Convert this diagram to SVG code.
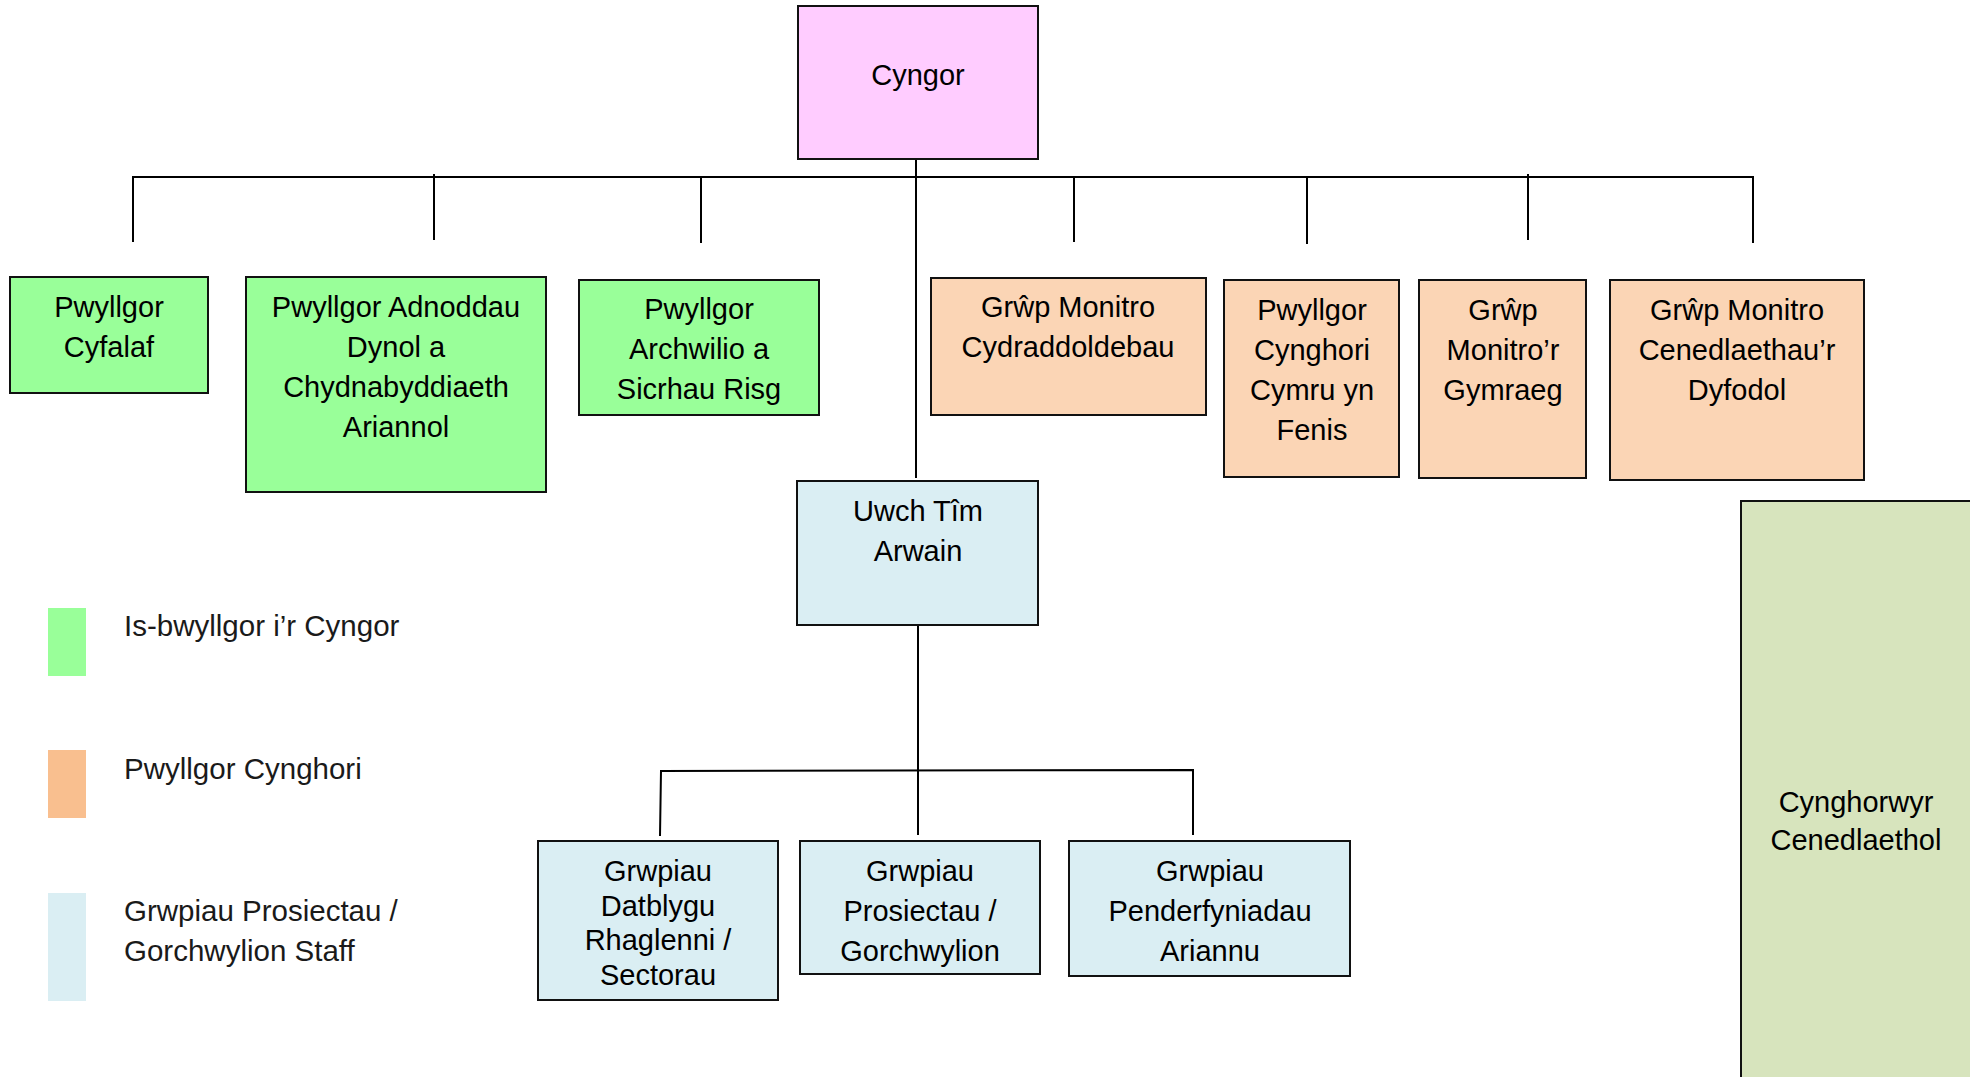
<svg xmlns="http://www.w3.org/2000/svg" width="1970" height="1077" viewBox="0 0 1970 1077">
<style>
.box{stroke:#111;stroke-width:2}
.g{fill:#99FF99}.p{fill:#FFCCFF}.o{fill:#FBD5B5}.b{fill:#DAEEF3}.n{fill:#D7E4BD}
text{font-family:"Liberation Sans","DejaVu Sans",sans-serif;font-size:29px;fill:#000;text-anchor:middle}
.leg{text-anchor:start;fill:#1a1a1a;font-size:29.5px}
.c{stroke:#000;stroke-width:2;fill:none}
</style>
<rect width="1970" height="1077" fill="#fff"/>
<g id="connectors">
<line class="c" x1="133" y1="177" x2="1753" y2="177" stroke-width="3"/>
<line class="c" x1="133" y1="176" x2="133" y2="242"/>
<line class="c" x1="434" y1="174" x2="434" y2="240"/>
<line class="c" x1="701" y1="176" x2="701" y2="243"/>
<line class="c" x1="1074" y1="176" x2="1074" y2="242"/>
<line class="c" x1="1307" y1="176" x2="1307" y2="244"/>
<line class="c" x1="1528" y1="174" x2="1528" y2="240"/>
<line class="c" x1="1753" y1="176" x2="1753" y2="243"/>
<line class="c" x1="916" y1="159" x2="916" y2="478"/>
<line class="c" x1="918" y1="625" x2="918" y2="835"/>
<polyline class="c" points="660,836 661,771 1193,770 1193,835"/>
</g>
<g id="cyngor"><rect class="box p" x="798" y="6" width="240" height="153"/><text x="918" y="85">Cyngor</text></g>
<g id="pwyllgor-cyfalaf"><rect class="box g" x="10" y="277" width="198" height="116"/><text x="109" y="317">Pwyllgor</text><text x="109" y="357">Cyfalaf</text></g>
<g id="pwyllgor-adnoddau"><rect class="box g" x="246" y="277" width="300" height="215"/><text x="396" y="317">Pwyllgor Adnoddau</text><text x="396" y="357">Dynol a</text><text x="396" y="397">Chydnabyddiaeth</text><text x="396" y="437">Ariannol</text></g>
<g id="pwyllgor-archwilio"><rect class="box g" x="579" y="280" width="240" height="135"/><text x="699" y="319">Pwyllgor</text><text x="699" y="359">Archwilio a</text><text x="699" y="399">Sicrhau Risg</text></g>
<g id="grwp-cydraddoldebau"><rect class="box o" x="931" y="278" width="275" height="137"/><text x="1068" y="317">Grŵp Monitro</text><text x="1068" y="357">Cydraddoldebau</text></g>
<g id="pwyllgor-fenis"><rect class="box o" x="1224" y="280" width="175" height="197"/><text x="1312" y="320">Pwyllgor</text><text x="1312" y="360">Cynghori</text><text x="1312" y="400">Cymru yn</text><text x="1312" y="440">Fenis</text></g>
<g id="grwp-gymraeg"><rect class="box o" x="1419" y="280" width="167" height="198"/><text x="1503" y="320">Grŵp</text><text x="1503" y="360">Monitro’r</text><text x="1503" y="400">Gymraeg</text></g>
<g id="grwp-dyfodol"><rect class="box o" x="1610" y="280" width="254" height="200"/><text x="1737" y="320">Grŵp Monitro</text><text x="1737" y="360">Cenedlaethau’r</text><text x="1737" y="400">Dyfodol</text></g>
<g id="uwch-tim"><rect class="box b" x="797" y="481" width="241" height="144"/><text x="918" y="521">Uwch Tîm</text><text x="918" y="561">Arwain</text></g>
<g id="grwpiau-datblygu"><rect class="box b" x="538" y="841" width="240" height="159"/><text x="658" y="881">Grwpiau</text><text x="658" y="916">Datblygu</text><text x="658" y="950">Rhaglenni /</text><text x="658" y="985">Sectorau</text></g>
<g id="grwpiau-prosiectau"><rect class="box b" x="800" y="841" width="240" height="133"/><text x="920" y="881">Grwpiau</text><text x="920" y="921">Prosiectau /</text><text x="920" y="961">Gorchwylion</text></g>
<g id="grwpiau-penderfyniadau"><rect class="box b" x="1069" y="841" width="281" height="135"/><text x="1210" y="881">Grwpiau</text><text x="1210" y="921">Penderfyniadau</text><text x="1210" y="961">Ariannu</text></g>
<g id="cynghorwyr-cenedlaethol"><rect class="box n" x="1741" y="501" width="240" height="590"/><text x="1856" y="812">Cynghorwyr</text><text x="1856" y="850">Cenedlaethol</text></g>
<g id="legend">
<rect x="48" y="608" width="38" height="68" fill="#99FF99"/>
<text class="leg" x="124" y="636">Is-bwyllgor i’r Cyngor</text>
<rect x="48" y="750" width="38" height="68" fill="#F9BF8F"/>
<text class="leg" x="124" y="779">Pwyllgor Cynghori</text>
<rect x="48" y="893" width="38" height="108" fill="#DAEEF3"/>
<text class="leg" x="124" y="921">Grwpiau Prosiectau /</text>
<text class="leg" x="124" y="961">Gorchwylion Staff</text>
</g>
</svg>
